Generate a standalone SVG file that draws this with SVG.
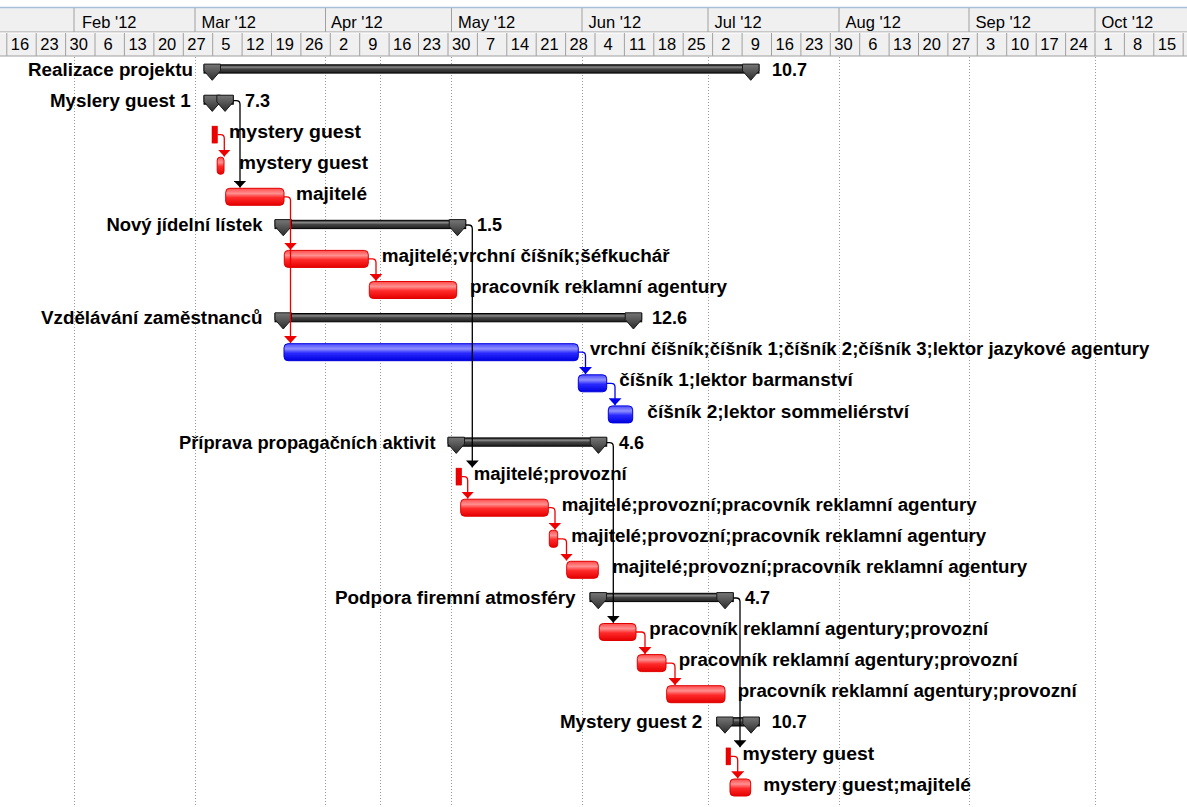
<svg xmlns="http://www.w3.org/2000/svg" width="1187" height="807" viewBox="0 0 1187 807">
<style>
.hdr{font-family:"Liberation Sans",Arial,sans-serif;font-size:16.5px;fill:#000}
.wk{text-anchor:middle}
.lbl{font-family:"Liberation Sans",Arial,sans-serif;font-size:18px;font-weight:bold;fill:#000}
.grid{stroke:#9a9a9a;stroke-width:1;stroke-dasharray:1 2;fill:none}
.div{stroke:#a0a0a0;stroke-width:1}
.hl{stroke:#ffffff;stroke-width:1}
.red{fill:url(#gRed);stroke:#e00000;stroke-width:1}
.blue{fill:url(#gBlue);stroke:#0000dc;stroke-width:1}
.redsq{fill:#ee0000;stroke:#d00000;stroke-width:0.5}
.sbody{fill:url(#gSum);stroke:#000;stroke-width:1}
.scap{fill:url(#gCap);stroke:#1a1a1a;stroke-width:1}
.cb{stroke:#000;stroke-width:1.3;fill:none}
.cr{stroke:#ee0000;stroke-width:1.3;fill:none}
.cbl{stroke:#0000ee;stroke-width:1.3;fill:none}
</style>
<defs>
<linearGradient id="gRed" x1="0" y1="0" x2="0" y2="1">
<stop offset="0" stop-color="#ff4a4a"/><stop offset="0.3" stop-color="#ff9090"/><stop offset="0.55" stop-color="#ff2a2a"/><stop offset="1" stop-color="#e40000"/>
</linearGradient>
<linearGradient id="gBlue" x1="0" y1="0" x2="0" y2="1">
<stop offset="0" stop-color="#4a4aff"/><stop offset="0.3" stop-color="#9090ff"/><stop offset="0.55" stop-color="#2a2aff"/><stop offset="1" stop-color="#0000e0"/>
</linearGradient>
<linearGradient id="gSum" x1="0" y1="0" x2="0" y2="1">
<stop offset="0" stop-color="#1a1a1a"/><stop offset="0.28" stop-color="#8a8a8a"/><stop offset="0.5" stop-color="#444"/><stop offset="1" stop-color="#1e1e1e"/>
</linearGradient>
<linearGradient id="gCap" x1="0" y1="0" x2="0" y2="1">
<stop offset="0" stop-color="#777"/><stop offset="1" stop-color="#2c2c2c"/>
</linearGradient>
<marker id="aB" viewBox="0 0 7 13" refX="7" refY="6.5" markerWidth="7" markerHeight="13" markerUnits="userSpaceOnUse" orient="auto"><path d="M0,0 L7,6.5 L0,13 z" fill="#000"/></marker>
<marker id="aR" viewBox="0 0 7 13" refX="7" refY="6.5" markerWidth="7" markerHeight="13" markerUnits="userSpaceOnUse" orient="auto"><path d="M0,0 L7,6.5 L0,13 z" fill="#ee0000"/></marker>
<marker id="aBl" viewBox="0 0 7 13" refX="7" refY="6.5" markerWidth="7" markerHeight="13" markerUnits="userSpaceOnUse" orient="auto"><path d="M0,0 L7,6.5 L0,13 z" fill="#0000ee"/></marker>
</defs>
<rect x="0" y="0" width="1187" height="807" fill="#fff"/>
<g id="timescale">
<rect x="0" y="8" width="1187" height="48" fill="#f0f0f0"/>
<line x1="0" y1="7.5" x2="1187" y2="7.5" stroke="#a9bfd9" stroke-width="1.5"/>
<line x1="0" y1="32" x2="1187" y2="32" class="div"/>
<line x1="0" y1="33" x2="1187" y2="33" class="hl"/>
<line x1="0" y1="56" x2="1187" y2="56" class="div"/>
<g>
<line x1="74" y1="8" x2="74" y2="32" class="div"/><line x1="195" y1="8" x2="195" y2="32" class="div"/><line x1="325.5" y1="8" x2="325.5" y2="32" class="div"/><line x1="451.5" y1="8" x2="451.5" y2="32" class="div"/><line x1="582" y1="8" x2="582" y2="32" class="div"/><line x1="708" y1="8" x2="708" y2="32" class="div"/><line x1="839" y1="8" x2="839" y2="32" class="div"/><line x1="969" y1="8" x2="969" y2="32" class="div"/><line x1="1095" y1="8" x2="1095" y2="32" class="div"/>
</g>
<g class="hdr">
<text x="82" y="27.5">Feb '12</text><text x="201.5" y="27.5">Mar '12</text><text x="331" y="27.5">Apr '12</text><text x="458" y="27.5">May '12</text><text x="588.5" y="27.5">Jun '12</text><text x="714.5" y="27.5">Jul '12</text><text x="845.5" y="27.5">Aug '12</text><text x="975.5" y="27.5">Sep '12</text><text x="1101.5" y="27.5">Oct '12</text>
</g>
<g>
<line x1="6.8" y1="33" x2="6.8" y2="56" class="div"/><line x1="36.2" y1="33" x2="36.2" y2="56" class="div"/><line x1="65.6" y1="33" x2="65.6" y2="56" class="div"/><line x1="95" y1="33" x2="95" y2="56" class="div"/><line x1="124.4" y1="33" x2="124.4" y2="56" class="div"/><line x1="153.9" y1="33" x2="153.9" y2="56" class="div"/><line x1="183.3" y1="33" x2="183.3" y2="56" class="div"/><line x1="212.7" y1="33" x2="212.7" y2="56" class="div"/><line x1="242.1" y1="33" x2="242.1" y2="56" class="div"/><line x1="271.5" y1="33" x2="271.5" y2="56" class="div"/><line x1="300.9" y1="33" x2="300.9" y2="56" class="div"/><line x1="330.3" y1="33" x2="330.3" y2="56" class="div"/><line x1="359.7" y1="33" x2="359.7" y2="56" class="div"/><line x1="389.1" y1="33" x2="389.1" y2="56" class="div"/><line x1="418.5" y1="33" x2="418.5" y2="56" class="div"/><line x1="448" y1="33" x2="448" y2="56" class="div"/><line x1="477.4" y1="33" x2="477.4" y2="56" class="div"/><line x1="506.8" y1="33" x2="506.8" y2="56" class="div"/><line x1="536.2" y1="33" x2="536.2" y2="56" class="div"/><line x1="565.6" y1="33" x2="565.6" y2="56" class="div"/><line x1="595" y1="33" x2="595" y2="56" class="div"/><line x1="624.4" y1="33" x2="624.4" y2="56" class="div"/><line x1="653.8" y1="33" x2="653.8" y2="56" class="div"/><line x1="683.2" y1="33" x2="683.2" y2="56" class="div"/><line x1="712.6" y1="33" x2="712.6" y2="56" class="div"/><line x1="742.1" y1="33" x2="742.1" y2="56" class="div"/><line x1="771.5" y1="33" x2="771.5" y2="56" class="div"/><line x1="800.9" y1="33" x2="800.9" y2="56" class="div"/><line x1="830.3" y1="33" x2="830.3" y2="56" class="div"/><line x1="859.7" y1="33" x2="859.7" y2="56" class="div"/><line x1="889.1" y1="33" x2="889.1" y2="56" class="div"/><line x1="918.5" y1="33" x2="918.5" y2="56" class="div"/><line x1="947.9" y1="33" x2="947.9" y2="56" class="div"/><line x1="977.3" y1="33" x2="977.3" y2="56" class="div"/><line x1="1006.7" y1="33" x2="1006.7" y2="56" class="div"/><line x1="1036.2" y1="33" x2="1036.2" y2="56" class="div"/><line x1="1065.6" y1="33" x2="1065.6" y2="56" class="div"/><line x1="1095" y1="33" x2="1095" y2="56" class="div"/><line x1="1124.4" y1="33" x2="1124.4" y2="56" class="div"/><line x1="1153.8" y1="33" x2="1153.8" y2="56" class="div"/><line x1="1183.2" y1="33" x2="1183.2" y2="56" class="div"/>
</g>
<g class="hdr wk">
<text x="20" y="50">16</text><text x="49.4" y="50">23</text><text x="78.8" y="50">30</text><text x="108.2" y="50">6</text><text x="137.6" y="50">13</text><text x="167.1" y="50">20</text><text x="196.5" y="50">27</text><text x="225.9" y="50">5</text><text x="255.3" y="50">12</text><text x="284.7" y="50">19</text><text x="314.1" y="50">26</text><text x="343.5" y="50">2</text><text x="372.9" y="50">9</text><text x="402.3" y="50">16</text><text x="431.7" y="50">23</text><text x="461.2" y="50">30</text><text x="490.6" y="50">7</text><text x="520" y="50">14</text><text x="549.4" y="50">21</text><text x="578.8" y="50">28</text><text x="608.2" y="50">4</text><text x="637.6" y="50">11</text><text x="667" y="50">18</text><text x="696.4" y="50">25</text><text x="725.8" y="50">2</text><text x="755.3" y="50">9</text><text x="784.7" y="50">16</text><text x="814.1" y="50">23</text><text x="843.5" y="50">30</text><text x="872.9" y="50">6</text><text x="902.3" y="50">13</text><text x="931.7" y="50">20</text><text x="961.1" y="50">27</text><text x="990.5" y="50">3</text><text x="1019.9" y="50">10</text><text x="1049.4" y="50">17</text><text x="1078.8" y="50">24</text><text x="1108.2" y="50">1</text><text x="1137.6" y="50">8</text><text x="1167" y="50">15</text>
</g>
</g>
<g id="gridlines" class="grid">
<line x1="74.5" y1="57" x2="74.5" y2="807"/><line x1="195.5" y1="57" x2="195.5" y2="807"/><line x1="325.5" y1="57" x2="325.5" y2="807"/><line x1="380.5" y1="57" x2="380.5" y2="807"/><line x1="451.5" y1="57" x2="451.5" y2="807"/><line x1="582.5" y1="57" x2="582.5" y2="807"/><line x1="708.5" y1="57" x2="708.5" y2="807"/><line x1="839.5" y1="57" x2="839.5" y2="807"/><line x1="969.5" y1="57" x2="969.5" y2="807"/><line x1="1095.5" y1="57" x2="1095.5" y2="807"/>
</g>

<g id="n0">
<text class="lbl" x="28" y="75.5" textLength="165" lengthAdjust="spacingAndGlyphs">Realizace projektu</text>
<rect class="sbody" x="204" y="64.8" width="555" height="8.3"/>
<polygon class="scap" points="204,64.1 220.5,64.1 220.5,70.8 212.25,80.3 204,70.8"/>
<polygon class="scap" points="742.5,64.1 759,64.1 759,70.8 750.75,80.3 742.5,70.8"/>
<text class="lbl" x="772" y="75.5">10.7</text>
</g>
<g id="n1">
<text class="lbl" x="50" y="106.6" textLength="140.7" lengthAdjust="spacingAndGlyphs">Myslery guest 1</text>
<rect class="sbody" x="204" y="95.9" width="29.3" height="8.3"/>
<polygon class="scap" points="204,95.2 220.5,95.2 220.5,101.9 212.25,111.4 204,101.9"/>
<polygon class="scap" points="216.8,95.2 233.3,95.2 233.3,101.9 225.05,111.4 216.8,101.9"/>
<text class="lbl" x="245" y="106.6">7.3</text>
</g>
<g id="n2">
<rect class="redsq" x="212" y="126.1" width="5.5" height="17"/>
<text class="lbl" x="229" y="137.7" textLength="132" lengthAdjust="spacingAndGlyphs">mystery guest</text>
</g>
<g id="n3">
<rect class="red" x="217.2" y="157.2" width="6.8" height="17" rx="3"/>
<text class="lbl" x="239" y="168.8" textLength="129" lengthAdjust="spacingAndGlyphs">mystery guest</text>
</g>
<g id="n4">
<rect class="red" x="225.7" y="188.3" width="58.3" height="17" rx="4"/>
<text class="lbl" x="296" y="199.9" textLength="71" lengthAdjust="spacingAndGlyphs">majitelé</text>
</g>
<g id="n5">
<text class="lbl" x="106.4" y="231" textLength="156.1" lengthAdjust="spacingAndGlyphs">Nový jídelní lístek</text>
<rect class="sbody" x="275" y="220.3" width="190.7" height="8.3"/>
<polygon class="scap" points="275,219.6 291.5,219.6 291.5,226.3 283.25,235.8 275,226.3"/>
<polygon class="scap" points="449.2,219.6 465.7,219.6 465.7,226.3 457.45,235.8 449.2,226.3"/>
<text class="lbl" x="477" y="231">1.5</text>
</g>
<g id="n6">
<rect class="red" x="284.3" y="250.4" width="84" height="17" rx="4"/>
<text class="lbl" x="381.7" y="262" textLength="288" lengthAdjust="spacingAndGlyphs">majitelé;vrchní číšník;šéfkuchář</text>
</g>
<g id="n7">
<rect class="red" x="369.3" y="281.5" width="87.4" height="17" rx="4"/>
<text class="lbl" x="470" y="293.1" textLength="257" lengthAdjust="spacingAndGlyphs">pracovník reklamní agentury</text>
</g>
<g id="n8">
<text class="lbl" x="41" y="324.2" textLength="221.5" lengthAdjust="spacingAndGlyphs">Vzdělávání zaměstnanců</text>
<rect class="sbody" x="275" y="313.5" width="366.7" height="8.3"/>
<polygon class="scap" points="275,312.8 291.5,312.8 291.5,319.5 283.25,329 275,319.5"/>
<polygon class="scap" points="625.2,312.8 641.7,312.8 641.7,319.5 633.45,329 625.2,319.5"/>
<text class="lbl" x="652" y="324.2">12.6</text>
</g>
<g id="n9">
<rect class="blue" x="284" y="343.7" width="294.3" height="17" rx="4"/>
<text class="lbl" x="590" y="355.3" textLength="559.4" lengthAdjust="spacingAndGlyphs">vrchní číšník;číšník 1;číšník 2;číšník 3;lektor jazykové agentury</text>
</g>
<g id="n10">
<rect class="blue" x="578.3" y="374.8" width="28.4" height="17" rx="4"/>
<text class="lbl" x="619.3" y="386.4" textLength="233.5" lengthAdjust="spacingAndGlyphs">číšník 1;lektor barmanství</text>
</g>
<g id="n11">
<rect class="blue" x="608.3" y="405.9" width="24.4" height="17" rx="4"/>
<text class="lbl" x="647.3" y="417.5" textLength="261.7" lengthAdjust="spacingAndGlyphs">číšník 2;lektor sommeliérství</text>
</g>
<g id="n12">
<text class="lbl" x="179" y="448.6" textLength="256.5" lengthAdjust="spacingAndGlyphs">Příprava propagačních aktivit</text>
<rect class="sbody" x="448" y="437.9" width="158.7" height="8.3"/>
<polygon class="scap" points="448,437.2 464.5,437.2 464.5,443.9 456.25,453.4 448,443.9"/>
<polygon class="scap" points="590.2,437.2 606.7,437.2 606.7,443.9 598.45,453.4 590.2,443.9"/>
<text class="lbl" x="619" y="448.6">4.6</text>
</g>
<g id="n13">
<rect class="redsq" x="456" y="468.1" width="5.7" height="17"/>
<text class="lbl" x="473.7" y="479.7" textLength="153" lengthAdjust="spacingAndGlyphs">majitelé;provozní</text>
</g>
<g id="n14">
<rect class="red" x="460.7" y="499.2" width="87.6" height="17" rx="4"/>
<text class="lbl" x="561.7" y="510.8" textLength="415" lengthAdjust="spacingAndGlyphs">majitelé;provozní;pracovník reklamní agentury</text>
</g>
<g id="n15">
<rect class="red" x="549.3" y="530.3" width="8.4" height="17" rx="3"/>
<text class="lbl" x="571.3" y="541.9" textLength="415" lengthAdjust="spacingAndGlyphs">majitelé;provozní;pracovník reklamní agentury</text>
</g>
<g id="n16">
<rect class="red" x="566.7" y="561.3" width="31.6" height="17" rx="4"/>
<text class="lbl" x="612.2" y="572.9" textLength="415" lengthAdjust="spacingAndGlyphs">majitelé;provozní;pracovník reklamní agentury</text>
</g>
<g id="n17">
<text class="lbl" x="334.9" y="604" textLength="240.7" lengthAdjust="spacingAndGlyphs">Podpora firemní atmosféry</text>
<rect class="sbody" x="590" y="593.3" width="143.3" height="8.3"/>
<polygon class="scap" points="590,592.6 606.5,592.6 606.5,599.3 598.25,608.8 590,599.3"/>
<polygon class="scap" points="716.8,592.6 733.3,592.6 733.3,599.3 725.05,608.8 716.8,599.3"/>
<text class="lbl" x="745" y="604">4.7</text>
</g>
<g id="n18">
<rect class="red" x="599.3" y="623.5" width="36.7" height="17" rx="4"/>
<text class="lbl" x="649.3" y="635.1" textLength="339" lengthAdjust="spacingAndGlyphs">pracovník reklamní agentury;provozní</text>
</g>
<g id="n19">
<rect class="red" x="637.3" y="654.6" width="28.7" height="17" rx="4"/>
<text class="lbl" x="678.7" y="666.2" textLength="339" lengthAdjust="spacingAndGlyphs">pracovník reklamní agentury;provozní</text>
</g>
<g id="n20">
<rect class="red" x="666.7" y="685.7" width="58.3" height="17" rx="4"/>
<text class="lbl" x="737.7" y="697.3" textLength="339" lengthAdjust="spacingAndGlyphs">pracovník reklamní agentury;provozní</text>
</g>
<g id="n21">
<text class="lbl" x="559.9" y="728.4" textLength="142.4" lengthAdjust="spacingAndGlyphs">Mystery guest 2</text>
<rect class="sbody" x="716.7" y="717.7" width="42.6" height="8.3"/>
<polygon class="scap" points="716.7,717 733.2,717 733.2,723.7 724.95,733.2 716.7,723.7"/>
<polygon class="scap" points="742.8,717 759.3,717 759.3,723.7 751.05,733.2 742.8,723.7"/>
<text class="lbl" x="771.7" y="728.4">10.7</text>
</g>
<g id="n22">
<rect class="redsq" x="726" y="747.9" width="4.7" height="17"/>
<text class="lbl" x="742.6" y="759.5" textLength="131.6" lengthAdjust="spacingAndGlyphs">mystery guest</text>
</g>
<g id="n23">
<rect class="red" x="730" y="779" width="20.7" height="17" rx="4"/>
<text class="lbl" x="763.2" y="790.6" textLength="207.8" lengthAdjust="spacingAndGlyphs">mystery guest;majitelé</text>
</g>

<g id="connectors">
<path class="cb" marker-end="url(#aB)" d="M233.3,100.6 H236.3 Q240,100.6 240,104.3 V187.6"/>
<path class="cb" marker-end="url(#aB)" d="M465.7,225 H468.5 Q472.3,225 472.3,228.8 V467.4"/>
<path class="cb" marker-end="url(#aB)" d="M606.7,442.6 H609.5 Q613.3,442.6 613.3,446.4 V622.8"/>
<path class="cb" marker-end="url(#aB)" d="M733.3,598 H736.2 Q740,598 740,601.8 V747.2"/>
<path class="cr" marker-end="url(#aR)" d="M217.5,134.6 H220.5 Q224.3,134.6 224.3,138.4 V156.5"/>
<path class="cr" marker-end="url(#aR)" d="M284,196.8 H286.7 Q290.5,196.8 290.5,200.6 V249.7"/>
<path class="cr" marker-end="url(#aR)" d="M290.5,249 V343"/>
<path class="cr" marker-end="url(#aR)" d="M368.3,258.9 H372.2 Q376,258.9 376,262.7 V280.8"/>
<path class="cr" marker-end="url(#aR)" d="M461.7,476.6 H463.9 Q467.7,476.6 467.7,480.4 V498.5"/>
<path class="cr" marker-end="url(#aR)" d="M548.3,507.7 H551.2 Q555,507.7 555,511.5 V529.6"/>
<path class="cr" marker-end="url(#aR)" d="M557.7,538.8 H562.7 Q566.5,538.8 566.5,542.6 V560.6"/>
<path class="cr" marker-end="url(#aR)" d="M636,632 H641.2 Q645,632 645,635.8 V653.9"/>
<path class="cr" marker-end="url(#aR)" d="M666,663.1 H671.2 Q675,663.1 675,666.9 V685"/>
<path class="cr" marker-end="url(#aR)" d="M730.7,756.4 H733.9 Q737.7,756.4 737.7,760.2 V778.3"/>
<path class="cbl" marker-end="url(#aBl)" d="M578.3,352.2 H581.7 Q585.5,352.2 585.5,356 V374.1"/>
<path class="cbl" marker-end="url(#aBl)" d="M606.7,383.3 H611.2 Q615,383.3 615,387.1 V405.2"/>
</g>
</svg>
